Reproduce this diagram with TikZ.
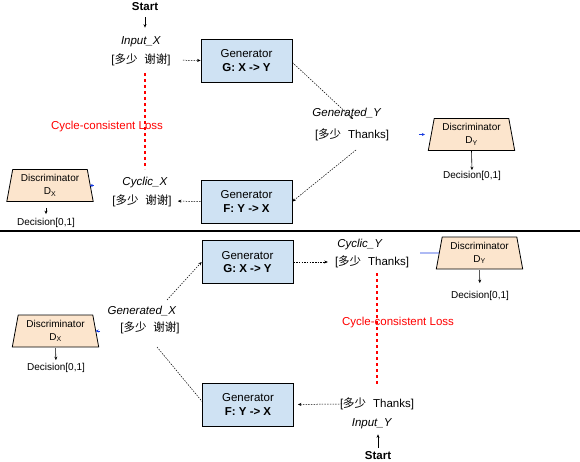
\documentclass[tikz,border=0pt]{standalone}
\usepackage{fontspec}
\setmainfont{Liberation Sans}
\newfontfamily\cjk{Noto Sans CJK SC}
\usetikzlibrary{arrows.meta,shapes.geometric}
\definecolor{genblue}{HTML}{CFE2F3}
\definecolor{discorange}{HTML}{FCE5CD}
\definecolor{lossred}{HTML}{FF0000}
\definecolor{tipblue}{HTML}{1A3CE0}
\begin{document}
\begin{tikzpicture}[x=1pt,y=-1pt,
  txt/.style={inner sep=0pt, font=\fontsize{11.5}{13.5}\selectfont},
  small/.style={inner sep=0pt, font=\fontsize{10}{12}\selectfont},
  gen/.style={draw=black, line width=0.8pt, fill=genblue, minimum width=91pt,
    minimum height=43pt, inner sep=0pt, align=center,
    font=\fontsize{11.5}{13.5}\selectfont},
  disc/.style={trapezium, trapezium stretches=true, draw=black, line width=0.8pt,
    fill=discorange, minimum width=87pt, minimum height=32pt,
    trapezium left angle=78, trapezium right angle=78, inner sep=0pt,
    align=center, font=\fontsize{10}{13}\selectfont},
  flow/.style={line width=0.5pt, dash pattern=on 1.5pt off 1.2pt,
    -{Stealth[length=3.5pt,width=3pt]}},
  flowplain/.style={line width=0.5pt, dash pattern=on 1.5pt off 1.2pt},
  lossline/.style={red, dashed, line width=1.1pt},
  losslabel/.style={txt, text=lossred},
  solidarrow/.style={line width=0.6pt, -{Stealth[length=3.5pt,width=3pt]}},
  bluetip/.style={color=tipblue, line width=0.6pt, -{Stealth[length=3pt,width=3pt]}},
  blueline/.style={color=tipblue, line width=0.8pt}
]
\useasboundingbox (0,0) rectangle (580,462);

% ---------------- top half ----------------
\node[txt] (startT) at (145,7) {\textbf{Start}};
\node[txt] (inXn) at (141,42) {\textit{Input\_X}};
\node[txt] (inXv) at (141,60) {[{\cjk 多少}\hspace{0.6em}{\cjk 谢谢}]};
\draw[solidarrow, shorten <=6pt, shorten >=9pt] (startT.south) -- (startT.south |- inXn.north);

\node[gen] (gG1) at (246.5,60.5) {Generator\\\textbf{G: X -> Y}};
\draw[flow, shorten <=12pt] (inXv.east) -- (gG1.west);

\node[txt] (genYn) at (347,113) {\textit{Generated\_Y}};
\node[txt] (genYv) at (352,135) {[{\cjk 多少}\hspace{0.6em}Thanks]};
\coordinate (cGY1) at (353,119);
\coordinate (cGY2) at (356,150);
\draw[flow] ([yshift=-2pt]gG1.east) -- (cGY1);

\node[gen] (gF1) at (246.5,201.5) {Generator\\\textbf{F: Y -> X}};
\draw[flow] (cGY2) -- (gF1.east);

\node[txt] (cycXn) at (145,183) {\textit{Cyclic\_X}};
\node[txt] (cycXv) at (142,201) {[{\cjk 多少}\hspace{0.6em}{\cjk 谢谢}]};
\draw[flow, shorten >=6pt] (gF1.west) -- (cycXv.east);

\coordinate (lossT1) at (145,73);
\coordinate (lossT2) at (145,169);
\draw[lossline] (lossT1) -- (lossT2);
\node[losslabel] (lossTl) at (107,127) {Cycle-consistent Loss};

\node[disc] (dXT) at (50,185.5) {Discriminator\\D\textsubscript{X}};
\draw[bluetip] ([xshift=3pt]dXT.east) -- ([xshift=-1pt]dXT.east);
\node[small] (decXT) at (46,223) {Decision[0,1]};
\draw[solidarrow, shorten <=6pt, shorten >=4pt] (dXT.south -| decXT.north) -- (decXT.north);

\node[disc] (dYT) at (471.5,134.5) {Discriminator\\D\textsubscript{Y}};
\draw[bluetip] ([xshift=-12pt]dYT.west) -- ([xshift=-6pt]dYT.west);
\node[small] (decYT) at (472,176) {Decision[0,1]};
\draw[solidarrow, shorten >=1pt] (dYT.south) -- (decYT.north);

% ---------------- divider ----------------
\coordinate (divL) at (0,231);
\coordinate (divR) at (580,231);
\draw[line width=2pt] (divL) -- (divR);

% ---------------- bottom half ----------------
\node[gen] (gG2) at (247.5,262) {Generator\\\textbf{G: X -> Y}};
\node[txt] (cycYn) at (360,245) {\textit{Cyclic\_Y}};
\node[txt] (cycYv) at (372,262) {[{\cjk 多少}\hspace{0.6em}Thanks]};
\draw[flow, shorten >=7pt] (gG2.east) -- (cycYv.west);

\node[disc] (dYB) at (479.5,253) {Discriminator\\D\textsubscript{Y}};
\coordinate (cBY) at (420,253);
\draw[blueline] (cBY) -- (dYB.west);
\node[small] (decYB) at (480,296) {Decision[0,1]};
\draw[solidarrow, shorten <=1pt, shorten >=8pt] (dYB.south) -- (decYB.north);

\coordinate (lossB1) at (377,273);
\coordinate (lossB2) at (377,386);
\draw[lossline] (lossB1) -- (lossB2);
\node[losslabel] (lossBl) at (398,323) {Cycle-consistent Loss};

\node[txt] (genXn) at (142,311) {\textit{Generated\_X}};
\node[txt] (genXv) at (150,328) {[{\cjk 多少}\hspace{0.6em}{\cjk 谢谢}]};
\coordinate (cGX1) at (167,300);
\coordinate (cGX2) at (157,347);
\draw[flow] (cGX1) -- (gG2.west);

\node[gen] (gF2) at (248,404.5) {Generator\\\textbf{F: Y -> X}};
\draw[flowplain] (cGX2) -- ([yshift=3pt]gF2.west);

\node[txt] (inYv) at (377,404) {[{\cjk 多少}\hspace{0.6em}Thanks]};
\node[txt] (inYn) at (372,424) {\textit{Input\_Y}};
\draw[flow, shorten <=-5pt, shorten >=4pt] (inYv.west) -- (gF2.east);

\node[txt] (startB) at (378,455.5) {\textbf{Start}};
\draw[solidarrow, shorten <=3pt, shorten >=5pt] (startB.north) -- (startB.north |- inYn.south);

\node[disc] (dXB) at (55.5,331) {Discriminator\\D\textsubscript{X}};
\draw[bluetip] ([xshift=4pt]dXB.east) -- ([xshift=-0.5pt]dXB.east);
\node[small] (decXB) at (56,368) {Decision[0,1]};
\draw[solidarrow, shorten <=1pt, shorten >=3pt] (dXB.south) -- (decXB.north);
\end{tikzpicture}
\end{document}
